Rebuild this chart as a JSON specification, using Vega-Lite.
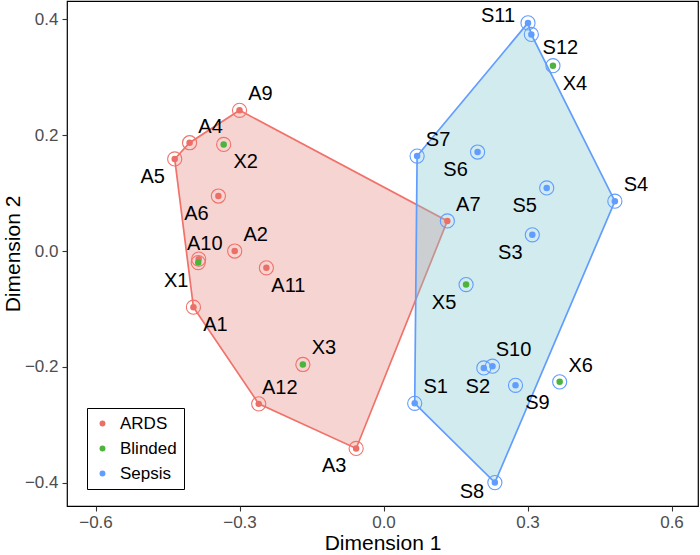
{
  "$schema": "https://vega.github.io/schema/vega-lite/v6.json",
  "width": 631,
  "height": 505,
  "autosize": {"type": "none"},
  "padding": {"left": 67, "top": 1, "right": 2, "bottom": 49},
  "background": "white",
  "config": {
    "font": "Liberation Sans",
    "view": {"stroke": "black", "strokeWidth": 1.2},
    "axis": {
      "grid": false,
      "domain": false,
      "tickColor": "#333333",
      "tickSize": 5,
      "tickWidth": 1.1,
      "labelColor": "#4D4D4D",
      "labelFontSize": 17,
      "labelFont": "Liberation Sans",
      "titleFont": "Liberation Sans",
      "titleFontSize": 21,
      "titleFontWeight": "normal",
      "titleColor": "black"
    }
  },
  "datasets": {
    "pts": [
      {"id": "A1", "group": "ARDS", "pred": "ARDS", "x": -0.396, "y": -0.097},
      {"id": "A2", "group": "ARDS", "pred": "ARDS", "x": -0.310, "y": 0.000},
      {"id": "A3", "group": "ARDS", "pred": "ARDS", "x": -0.057, "y": -0.341},
      {"id": "A4", "group": "ARDS", "pred": "ARDS", "x": -0.404, "y": 0.187},
      {"id": "A5", "group": "ARDS", "pred": "ARDS", "x": -0.435, "y": 0.159},
      {"id": "A6", "group": "ARDS", "pred": "ARDS", "x": -0.344, "y": 0.095},
      {"id": "A7", "group": "ARDS", "pred": "Sepsis", "x": 0.133, "y": 0.052},
      {"id": "A9", "group": "ARDS", "pred": "ARDS", "x": -0.300, "y": 0.243},
      {"id": "A10", "group": "ARDS", "pred": "ARDS", "x": -0.385, "y": -0.014},
      {"id": "A11", "group": "ARDS", "pred": "ARDS", "x": -0.244, "y": -0.029},
      {"id": "A12", "group": "ARDS", "pred": "ARDS", "x": -0.260, "y": -0.264},
      {"id": "S1", "group": "Sepsis", "pred": "Sepsis", "x": 0.065, "y": -0.263},
      {"id": "S2", "group": "Sepsis", "pred": "Sepsis", "x": 0.209, "y": -0.202},
      {"id": "S3", "group": "Sepsis", "pred": "Sepsis", "x": 0.310, "y": 0.028},
      {"id": "S4", "group": "Sepsis", "pred": "Sepsis", "x": 0.482, "y": 0.086},
      {"id": "S5", "group": "Sepsis", "pred": "Sepsis", "x": 0.340, "y": 0.109},
      {"id": "S6", "group": "Sepsis", "pred": "Sepsis", "x": 0.196, "y": 0.171},
      {"id": "S7", "group": "Sepsis", "pred": "Sepsis", "x": 0.070, "y": 0.164},
      {"id": "S8", "group": "Sepsis", "pred": "Sepsis", "x": 0.232, "y": -0.400},
      {"id": "S9", "group": "Sepsis", "pred": "Sepsis", "x": 0.275, "y": -0.232},
      {"id": "S10", "group": "Sepsis", "pred": "Sepsis", "x": 0.227, "y": -0.199},
      {"id": "S11", "group": "Sepsis", "pred": "Sepsis", "x": 0.301, "y": 0.394},
      {"id": "S12", "group": "Sepsis", "pred": "Sepsis", "x": 0.308, "y": 0.374},
      {"id": "X1", "group": "Blinded", "pred": "ARDS", "x": -0.386, "y": -0.020},
      {"id": "X2", "group": "Blinded", "pred": "ARDS", "x": -0.333, "y": 0.184},
      {"id": "X3", "group": "Blinded", "pred": "ARDS", "x": -0.168, "y": -0.196},
      {"id": "X4", "group": "Blinded", "pred": "Sepsis", "x": 0.353, "y": 0.320},
      {"id": "X5", "group": "Blinded", "pred": "Sepsis", "x": 0.172, "y": -0.058},
      {"id": "X6", "group": "Blinded", "pred": "Sepsis", "x": 0.367, "y": -0.226}
    ],
    "hull": [
      {"group": "ARDS", "i": 1, "x": -0.435, "y": 0.159},
      {"group": "ARDS", "i": 2, "x": -0.404, "y": 0.187},
      {"group": "ARDS", "i": 3, "x": -0.300, "y": 0.243},
      {"group": "ARDS", "i": 4, "x": 0.133, "y": 0.052},
      {"group": "ARDS", "i": 5, "x": -0.057, "y": -0.341},
      {"group": "ARDS", "i": 6, "x": -0.260, "y": -0.264},
      {"group": "ARDS", "i": 7, "x": -0.396, "y": -0.097},
      {"group": "ARDS", "i": 8, "x": -0.435, "y": 0.159},
      {"group": "Sepsis", "i": 1, "x": 0.301, "y": 0.394},
      {"group": "Sepsis", "i": 2, "x": 0.308, "y": 0.374},
      {"group": "Sepsis", "i": 3, "x": 0.482, "y": 0.086},
      {"group": "Sepsis", "i": 4, "x": 0.232, "y": -0.400},
      {"group": "Sepsis", "i": 5, "x": 0.065, "y": -0.263},
      {"group": "Sepsis", "i": 6, "x": 0.070, "y": 0.164},
      {"group": "Sepsis", "i": 7, "x": 0.301, "y": 0.394}
    ]
  },
  "encoding": {
    "x": {
      "field": "x", "type": "quantitative",
      "scale": {"domain": [-0.6594, 0.6552], "nice": false, "zero": false},
      "axis": {"title": "Dimension 1", "values": [-0.6, -0.3, 0, 0.3, 0.6], "format": ".1f", "labelPadding": 3, "titlePadding": 2}
    },
    "y": {
      "field": "y", "type": "quantitative",
      "scale": {"domain": [-0.4404, 0.4318], "nice": false, "zero": false},
      "axis": {"title": "Dimension 2", "values": [-0.4, -0.2, 0, 0.2, 0.4], "format": ".1f", "labelPadding": 4, "titlePadding": 1}
    }
  },
  "layer": [
    {
      "data": {"name": "hull"},
      "transform": [{"filter": "datum.group === 'ARDS'"}],
      "mark": {"type": "line", "fill": "#E0716A", "fillOpacity": 0.3, "stroke": "#F0726A", "strokeWidth": 1.7},
      "encoding": {"order": {"field": "i", "type": "quantitative"}}
    },
    {
      "data": {"name": "hull"},
      "transform": [{"filter": "datum.group === 'Sepsis'"}],
      "mark": {"type": "line", "fill": "#7FC8D2", "fillOpacity": 0.36, "stroke": "#619CFF", "strokeWidth": 1.7},
      "encoding": {"order": {"field": "i", "type": "quantitative"}}
    },
    {
      "data": {"name": "pts"},
      "mark": {"type": "point", "shape": "circle", "filled": false, "size": 200, "strokeWidth": 1.1, "opacity": 1},
      "encoding": {
        "stroke": {"field": "pred", "type": "nominal", "legend": null,
          "scale": {"domain": ["ARDS", "Sepsis"], "range": ["#F0726A", "#619CFF"]}}
      }
    },
    {
      "data": {"name": "pts"},
      "mark": {"type": "circle", "size": 42, "opacity": 1},
      "encoding": {
        "color": {"field": "group", "type": "nominal",
          "scale": {"domain": ["ARDS", "Blinded", "Sepsis"], "range": ["#EC6F67", "#4DB33D", "#619CFF"]},
          "legend": {
            "title": null, "orient": "none", "legendX": 20, "legendY": 407,
            "strokeColor": "black", "fillColor": "white", "padding": 7,
            "labelFontSize": 17, "labelFont": "Liberation Sans", "labelColor": "black",
            "symbolSize": 35, "symbolType": "circle", "rowPadding": 7, "labelOffset": 9,
            "symbolStrokeWidth": 0
          }
        }
      }
    },
    {
      "data": {"name": "pts"},
      "transform": [{"filter": {"field": "id", "oneOf": ["A9", "A4", "A2", "X3", "A12", "S7", "S4", "A7", "S10", "X6", "S1"]}}],
      "mark": {"type": "text", "fontSize": 20, "dx": 21, "dy": -16, "align": "center", "baseline": "middle", "color": "black"},
      "encoding": {"text": {"field": "id"}}
    },
    {
      "data": {"name": "pts"},
      "transform": [{"filter": {"field": "id", "oneOf": ["X2", "A11", "A1", "X4", "S9"]}}],
      "mark": {"type": "text", "fontSize": 20, "dx": 22, "dy": 18, "align": "center", "baseline": "middle", "color": "black"},
      "encoding": {"text": {"field": "id"}}
    },
    {
      "data": {"name": "pts"},
      "transform": [{"filter": {"field": "id", "oneOf": ["A5", "A6", "X1", "A3", "S6", "S5", "S3", "X5"]}}],
      "mark": {"type": "text", "fontSize": 20, "dx": -22, "dy": 18, "align": "center", "baseline": "middle", "color": "black"},
      "encoding": {"text": {"field": "id"}}
    },
    {
      "data": {"name": "pts"},
      "transform": [{"filter": {"field": "id", "equal": "A10"}}],
      "mark": {"type": "text", "fontSize": 20, "dx": 6, "dy": -15, "align": "center", "baseline": "middle", "color": "black"},
      "encoding": {"text": {"field": "id"}}
    },
    {
      "data": {"name": "pts"},
      "transform": [{"filter": {"field": "id", "equal": "S11"}}],
      "mark": {"type": "text", "fontSize": 20, "dx": -30, "dy": -7, "align": "center", "baseline": "middle", "color": "black"},
      "encoding": {"text": {"field": "id"}}
    },
    {
      "data": {"name": "pts"},
      "transform": [{"filter": {"field": "id", "equal": "S12"}}],
      "mark": {"type": "text", "fontSize": 20, "dx": 29, "dy": 14, "align": "center", "baseline": "middle", "color": "black"},
      "encoding": {"text": {"field": "id"}}
    },
    {
      "data": {"name": "pts"},
      "transform": [{"filter": {"field": "id", "equal": "S2"}}],
      "mark": {"type": "text", "fontSize": 20, "dx": -6, "dy": 19, "align": "center", "baseline": "middle", "color": "black"},
      "encoding": {"text": {"field": "id"}}
    },
    {
      "data": {"name": "pts"},
      "transform": [{"filter": {"field": "id", "equal": "S8"}}],
      "mark": {"type": "text", "fontSize": 20, "dx": -23, "dy": 9, "align": "center", "baseline": "middle", "color": "black"},
      "encoding": {"text": {"field": "id"}}
    }
  ]
}
